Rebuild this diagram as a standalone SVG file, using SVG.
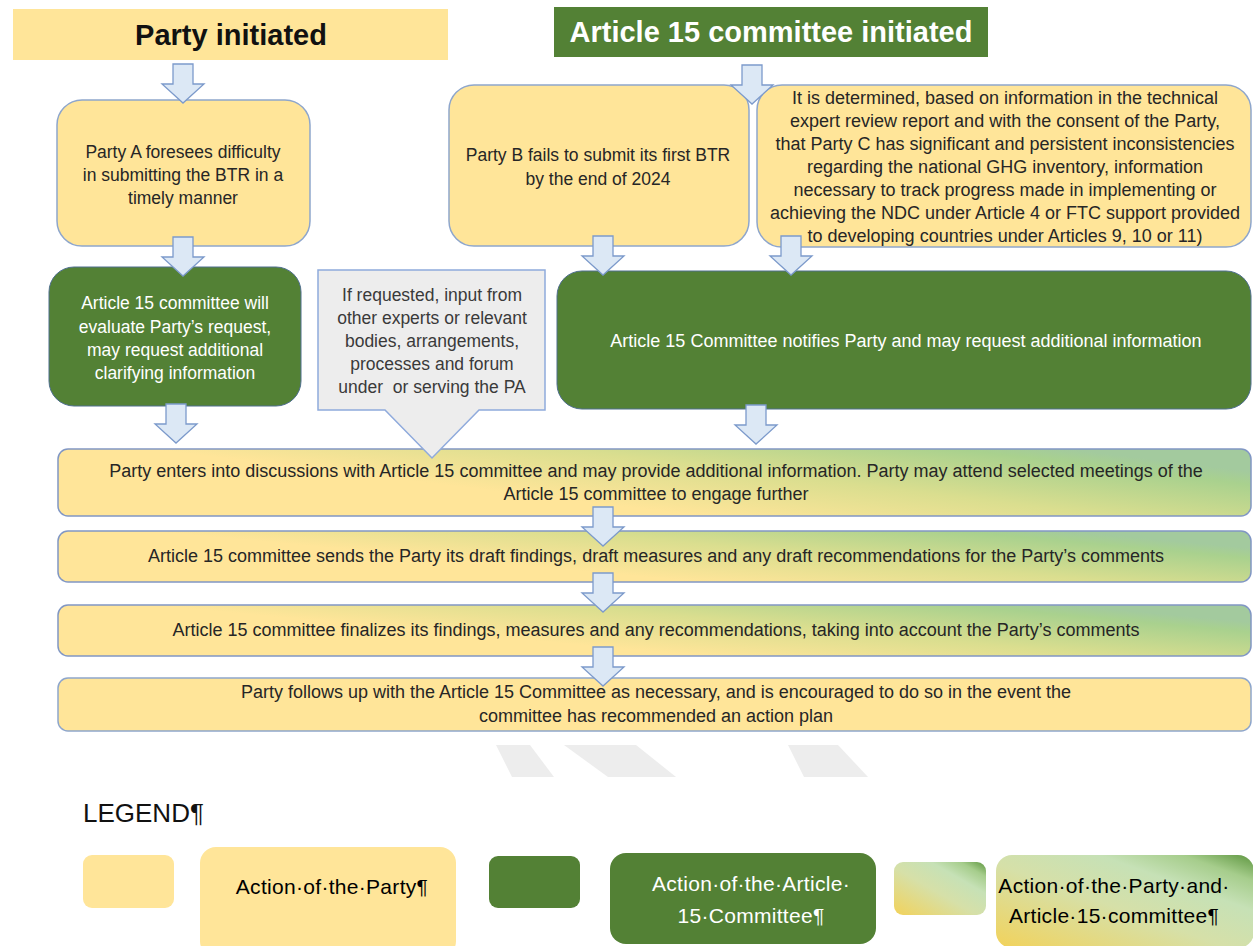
<svg xmlns="http://www.w3.org/2000/svg" width="1253" height="946" viewBox="0 0 1253 946">
<defs>
<style>
.t{font-family:"Liberation Sans",Arial,sans-serif;font-size:17.5px;fill:#262626;text-anchor:middle}
.w{fill:#ffffff}
.g{fill:#3a3a3a}
.f{font-size:18px}
.c{font-size:18px}
.lg{font-family:"Liberation Sans",Arial,sans-serif;font-size:21px;letter-spacing:0.3px;fill:#000;text-anchor:middle}
.title{font-family:"Liberation Sans",Arial,sans-serif;font-size:29px;font-weight:bold;text-anchor:middle}
.yel{fill:#FFE599;stroke:#8EA6CC;stroke-width:1.5}
.grn{fill:#538135;stroke:#4E6E8E;stroke-width:1}
.flow{fill:url(#flowGrad);stroke:#8197C4;stroke-width:1.5}
.arr{fill:#DCE8F5;stroke:#7C9ACB;stroke-width:1.3;stroke-linejoin:miter}
.wm{fill:#EDEDED}
</style>
<linearGradient id="flowGrad" x1="0.538" y1="1" x2="1.172" y2="0.707">
<stop offset="0" stop-color="#FFE599"/>
<stop offset="0.45" stop-color="#DADE8F"/>
<stop offset="0.88" stop-color="#A9D18E"/>
<stop offset="1" stop-color="#A3CA9E"/>
</linearGradient>
<linearGradient id="legGrad" x1="0" y1="1" x2="1" y2="0">
<stop offset="0" stop-color="#F2D25A"/>
<stop offset="0.45" stop-color="#D6E0A8"/>
<stop offset="0.7" stop-color="#C6E1B6"/>
<stop offset="0.86" stop-color="#A6CD8C"/>
<stop offset="1" stop-color="#5E9640"/>
</linearGradient>
<path id="arrow" d="M-10,0 H10 V20 H21 L0,39 L-21,20 H-10 Z"/>
</defs>
<rect width="1253" height="946" fill="#ffffff"/>

<g id="watermark">
<polygon class="wm" points="496,745 530,745 554,777 512,777"/>
<polygon class="wm" points="564,745 636,745 676,777 608,777"/>
<polygon class="wm" points="788,745 838,745 868,777 804,777"/>
</g>

<g id="title-party">
<rect x="13" y="9" width="435" height="51" fill="#FFE599"/>
<text class="title" x="231" y="45" fill="#111">Party initiated</text>
</g>
<g id="title-committee">
<rect x="554" y="7" width="434" height="50" fill="#538135"/>
<text class="title" x="771" y="42" fill="#ffffff">Article 15 committee initiated</text>
</g>

<g id="node-partyA">
<rect class="yel" x="57" y="100" width="253" height="146" rx="25"/>
<text class="t" x="183" y="158">Party A foresees difficulty</text>
<text class="t" x="183" y="181">in submitting the BTR in a</text>
<text class="t" x="183" y="204">timely manner</text>
</g>

<g id="node-partyB">
<rect class="yel" x="449" y="85" width="300" height="161" rx="25"/>
<text class="t" x="598" y="161">Party B fails to submit its first BTR</text>
<text class="t" x="598" y="185">by the end of 2024</text>
</g>

<g id="node-partyC">
<rect class="yel" x="757" y="85" width="494" height="162" rx="25"/>
<text class="t c" x="1005" y="104">It is determined, based on information in the technical</text>
<text class="t c" x="1005" y="127">expert review report and with the consent of the Party,</text>
<text class="t c" x="1005" y="150">that Party C has significant and persistent inconsistencies</text>
<text class="t c" x="1005" y="173">regarding the national GHG inventory, information</text>
<text class="t c" x="1005" y="196">necessary to track progress made in implementing or</text>
<text class="t c" x="1005" y="219">achieving the NDC under Article 4 or FTC support provided</text>
<text class="t c" x="1005" y="242">to developing countries under Articles 9, 10 or 11)</text>
</g>

<g id="node-evaluate">
<rect class="grn" x="49" y="267" width="252" height="139" rx="25"/>
<text class="t w" x="175" y="309">Article 15 committee will</text>
<text class="t w" x="175" y="333">evaluate Party’s request,</text>
<text class="t w" x="175" y="356">may request additional</text>
<text class="t w" x="175" y="379">clarifying information</text>
</g>

<g id="node-notifies">
<rect class="grn" x="557" y="271" width="694" height="138" rx="25"/>
<text class="t w c" x="906" y="347">Article 15 Committee notifies Party and may request additional information</text>
</g>

<g id="node-discussions">
<rect class="flow" x="58" y="449" width="1193" height="67" rx="10"/>
<text class="t f" x="656" y="477">Party enters into discussions with Article 15 committee and may provide additional information. Party may attend selected meetings of the</text>
<text class="t f" x="656" y="500">Article 15 committee to engage further</text>
</g>

<g id="node-draft">
<rect class="flow" x="58" y="531" width="1193" height="51" rx="10"/>
<text class="t f" x="656" y="562">Article 15 committee sends the Party its draft findings, draft measures and any draft recommendations for the Party’s comments</text>
</g>

<g id="node-finalizes">
<rect class="flow" x="58" y="605" width="1193" height="51" rx="10"/>
<text class="t f" x="656" y="636">Article 15 committee finalizes its findings, measures and any recommendations, taking into account the Party’s comments</text>
</g>

<g id="node-followup">
<rect class="yel" x="58" y="678" width="1193" height="53" rx="10" stroke="#8197C4"/>
<text class="t f" x="656" y="698">Party follows up with the Article 15 Committee as necessary, and is encouraged to do so in the event the</text>
<text class="t f" x="656" y="722">committee has recommended an action plan</text>
</g>

<g id="node-experts">
<path d="M318,270 H545 V410 H479 L432,458 L385,410 H318 Z" fill="#EDEDED" stroke="#8FAADC" stroke-width="1.5"/>
<text class="t g" x="432" y="301">If requested, input from</text>
<text class="t g" x="432" y="324">other experts or relevant</text>
<text class="t g" x="432" y="347">bodies, arrangements,</text>
<text class="t g" x="432" y="370">processes and forum</text>
<text class="t g" x="432" y="393" xml:space="preserve">under  or serving the PA</text>
</g>

<g id="connectors">
<use href="#arrow" class="arr" transform="translate(183,64)"/>
<use href="#arrow" class="arr" transform="translate(183,237)"/>
<use href="#arrow" class="arr" transform="translate(176,404)"/>
<use href="#arrow" class="arr" transform="translate(752,65)"/>
<use href="#arrow" class="arr" transform="translate(603,236)"/>
<use href="#arrow" class="arr" transform="translate(791,236)"/>
<use href="#arrow" class="arr" transform="translate(756,405)"/>
<use href="#arrow" class="arr" transform="translate(603,507)"/>
<use href="#arrow" class="arr" transform="translate(603,573)"/>
<use href="#arrow" class="arr" transform="translate(603,647)"/>
</g>

<g id="legend">
<text x="83" y="822" font-family="Liberation Sans, Arial, sans-serif" font-size="26" fill="#111">LEGEND¶</text>
<g id="legend-party">
<rect x="83" y="855" width="91" height="53" rx="9" fill="#FFE599"/>
<rect x="200" y="847" width="256" height="110" rx="16" fill="#FFE599"/>
<text class="lg" x="332" y="894">Action·of·the·Party¶</text>
</g>
<g id="legend-committee">
<rect x="489" y="856" width="91" height="52" rx="9" fill="#538135"/>
<rect x="610" y="853" width="266" height="91" rx="16" fill="#538135"/>
<text class="lg" x="751" y="891" style="fill:#ffffff">Action·of·the·Article·</text>
<text class="lg" x="751" y="923" style="fill:#ffffff">15·Committee¶</text>
</g>
<g id="legend-both">
<rect x="894" y="862" width="92" height="53" rx="9" fill="url(#legGrad)"/>
<rect x="996" y="855" width="258" height="93" rx="16" fill="url(#legGrad)"/>
<text class="lg" x="1114" y="893">Action·of·the·Party·and·</text>
<text class="lg" x="1114" y="923">Article·15·committee¶</text>
</g>
</g>
</svg>
